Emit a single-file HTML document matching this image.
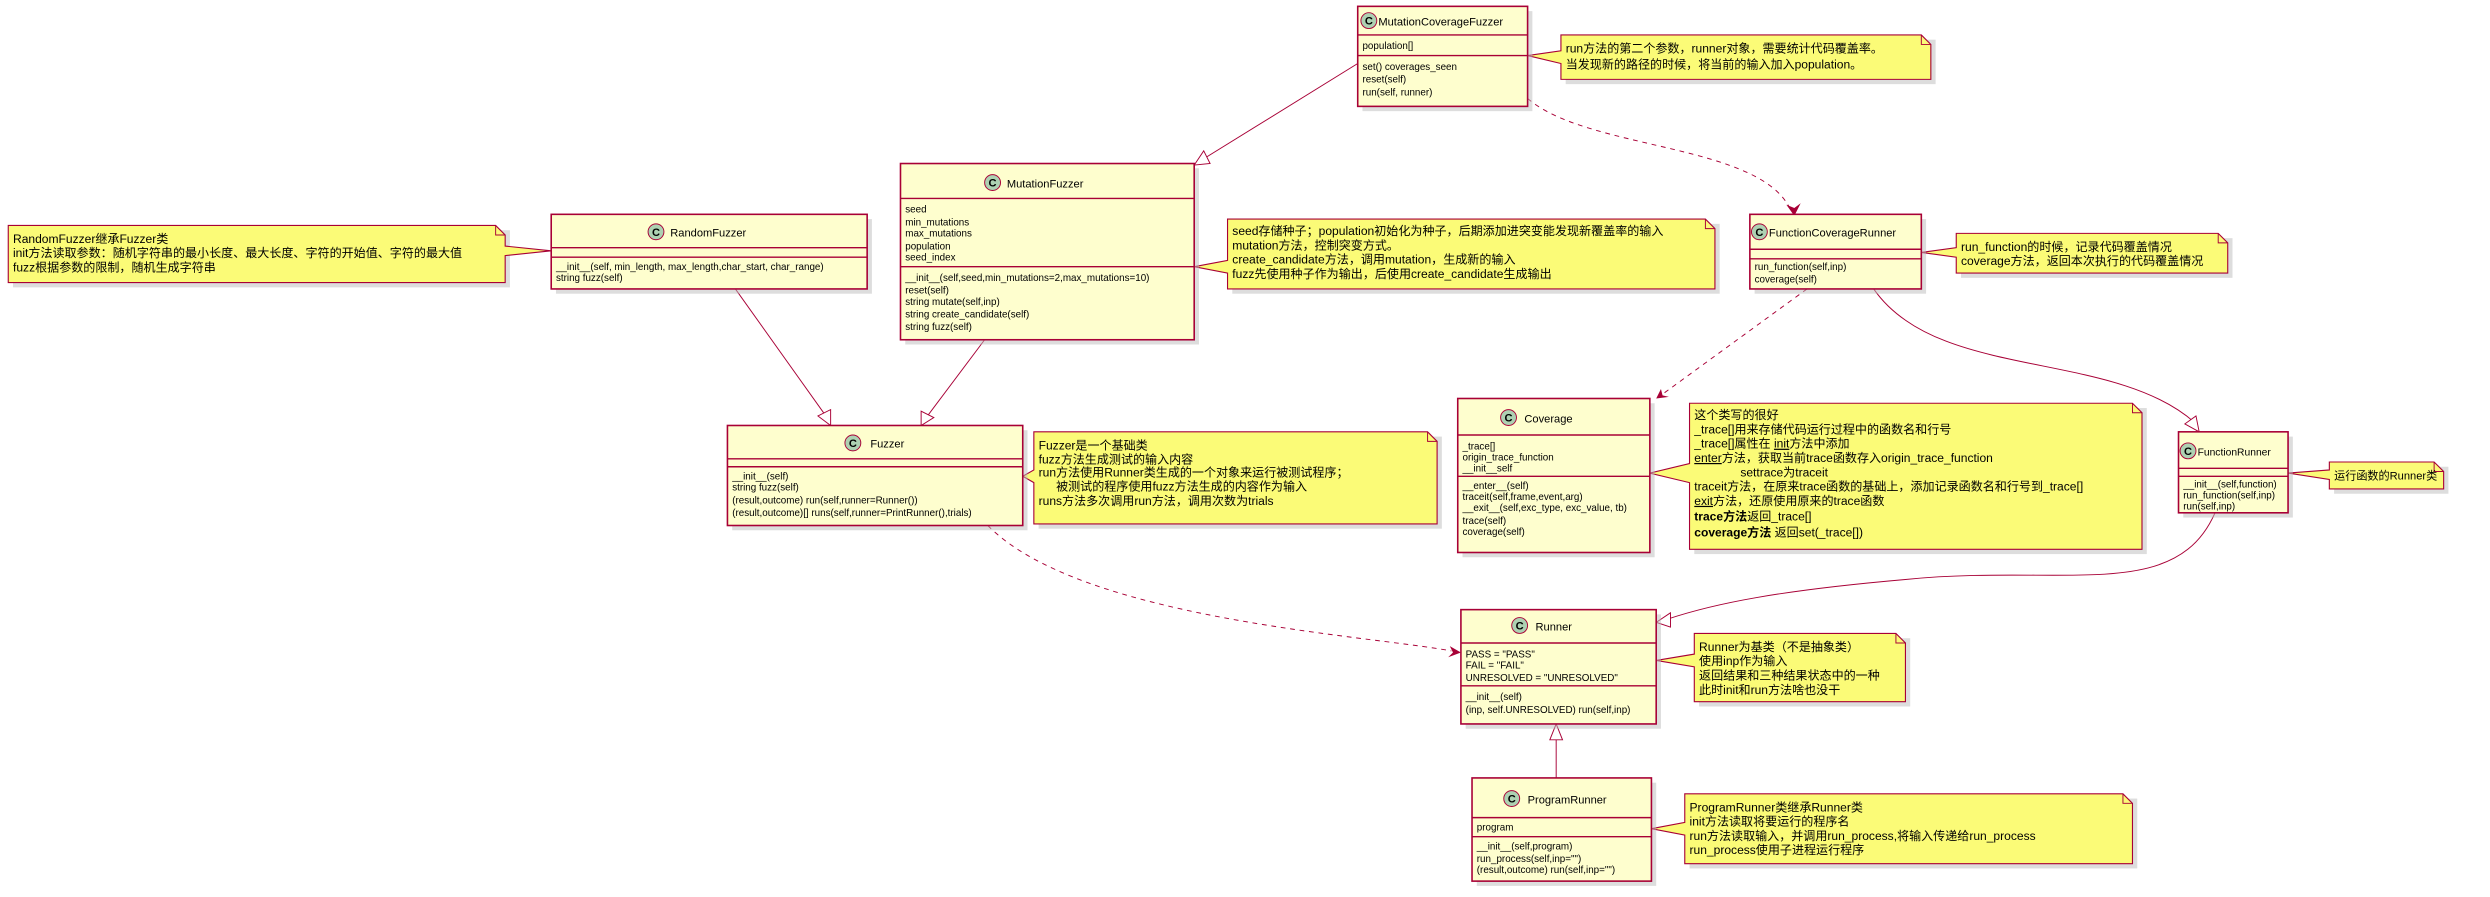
<!DOCTYPE html>
<html><head><meta charset="utf-8"><style>
html,body{margin:0;padding:0;background:#fff;}
svg{display:block;}
text{font-family:"Liberation Sans Narrow","Liberation Sans","Noto Sans CJK SC",sans-serif;fill:#000;}
.m{font-size:6.2px;}
.n{font-size:7px;}
.t{font-size:7.6px;}
.box{fill:#FEFECE;stroke:#A80036;stroke-width:1;}
.note{fill:#FBFB77;stroke:#A80036;stroke-width:0.7;}
.sh{fill:#bbb;opacity:.5;}
.ln{stroke:#A80036;stroke-width:0.9;}
.e{fill:none;stroke:#A80036;stroke-width:0.6;}
.tri{fill:#fff;stroke:#A80036;stroke-width:0.6;}
.ci{fill:#ADD1B2;stroke:#A80036;stroke-width:0.6;}
.ct{font-size:7px;font-weight:bold;text-anchor:middle;}
</style></head><body>
<svg width="2490" height="897" viewBox="0 0 1568 565" xmlns="http://www.w3.org/2000/svg">

<path class="e" d="M855,40 L758,100"/>
<polygon class="tri" points="752,104 758,95 762,103"/>
<path class="e" d="M962,62 C1000,95 1110,90 1128,133" stroke-dasharray="3,3"/>
<polygon points="1130,136 1125,129 1130,131 1134,128" fill="#A80036"/>
<path class="e" d="M463,182 L520,262"/>
<polygon class="tri" points="523,268 515,262 523,258"/>
<path class="e" d="M620,214 L584,262"/>
<polygon class="tri" points="580,268 580,259 588,263"/>
<path class="e" d="M1138,182 L1046,249" stroke-dasharray="3,3"/>
<polygon points="1043,251 1046,245 1047,249 1051,250" fill="#A80036"/>
<path class="e" d="M1180,182 C1220,240 1330,220 1382,266"/>
<polygon class="tri" points="1385,272 1376,267 1383,262"/>
<path class="e" d="M622,331 C680,390 860,400 914,410" stroke-dasharray="3,3"/>
<polygon points="920,411 913,407 915,411 912,414" fill="#A80036"/>
<path class="e" d="M1395,323 C1370,380 1300,355 1200,365 C1120,372 1080,380 1050,390"/>
<polygon class="tri" points="1043,392 1052,386 1052,395"/>
<path class="e" d="M980,490 L980,465"/>
<polygon class="tri" points="980,456 976,466 984,466"/>

<rect class="sh" x="8" y="145" width="313" height="36"/>
<path class="note" d="M5,142 L312,142 L318,148 L318,155 L347,158 L318,161 L318,178 L5,178 Z"/>
<path class="e" d="M312,142 L312,148 L318,148"/>
<text class="t" x="8" y="153">RandomFuzzer继承Fuzzer类</text>
<text class="t" x="8" y="162">init方法读取参数：随机字符串的最小长度、最大长度、字符的开始值、字符的最大值</text>
<text class="t" x="8" y="171">fuzz根据参数的限制，随机生成字符串</text>

<rect class="sh" x="986" y="25" width="233" height="28"/>
<path class="note" d="M983,22 L1210,22 L1216,28 L1216,50 L983,50 L983,40 L962,35 L983,32 Z"/>
<path class="e" d="M1210,22 L1210,28 L1216,28"/>
<text class="t" x="986" y="33">run方法的第二个参数，runner对象，需要统计代码覆盖率。</text>
<text class="t" x="986" y="43">当发现新的路径的时候，将当前的输入加入population。</text>

<rect class="sh" x="776" y="141" width="307" height="44"/>
<path class="note" d="M773,138 L1074,138 L1080,144 L1080,182 L773,182 L773,172 L752,168 L773,164 Z"/>
<path class="e" d="M1074,138 L1074,144 L1080,144"/>
<text class="t" x="776" y="148">seed存储种子；population初始化为种子，后期添加进突变能发现新覆盖率的输入</text>
<text class="t" x="776" y="157">mutation方法，控制突变方式。</text>
<text class="t" x="776" y="166">create_candidate方法，调用mutation，生成新的输入</text>
<text class="t" x="776" y="175">fuzz先使用种子作为输出，后使用create_candidate生成输出</text>

<rect class="sh" x="1235" y="150" width="171" height="25"/>
<path class="note" d="M1232,147 L1397,147 L1403,153 L1403,172 L1232,172 L1232,162 L1210,159 L1232,156 Z"/>
<path class="e" d="M1397,147 L1397,153 L1403,153"/>
<text class="t" x="1235" y="158">run_function的时候，记录代码覆盖情况</text>
<text class="t" x="1235" y="167">coverage方法，返回本次执行的代码覆盖情况</text>

<rect class="sh" x="654" y="275" width="254" height="58"/>
<path class="note" d="M651,272 L899,272 L905,278 L905,330 L651,330 L651,304 L644,300 L651,296 Z"/>
<path class="e" d="M899,272 L899,278 L905,278"/>
<text class="t" x="654" y="283">Fuzzer是一个基础类</text>
<text class="t" x="654" y="292">fuzz方法生成测试的输入内容</text>
<text class="t" x="654" y="300">run方法使用Runner类生成的一个对象来运行被测试程序；</text>
<text class="t" x="665" y="309">被测试的程序使用fuzz方法生成的内容作为输入</text>
<text class="t" x="654" y="318">runs方法多次调用run方法，调用次数为trials</text>

<rect class="sh" x="1067" y="257" width="285" height="92"/>
<path class="note" d="M1064,254 L1343,254 L1349,260 L1349,346 L1064,346 L1064,304 L1039,298 L1064,292 Z"/>
<path class="e" d="M1343,254 L1343,260 L1349,260"/>
<text class="t" x="1067" y="264">这个类写的很好</text>
<text class="t" x="1067" y="273">_trace[]用来存储代码运行过程中的函数名和行号</text>
<text class="t" x="1067" y="282">_trace[]属性在 <tspan text-decoration="underline">init</tspan>方法中添加</text>
<text class="t" x="1067" y="291"><tspan text-decoration="underline">enter</tspan>方法，获取当前trace函数存入origin_trace_function</text>
<text class="t" x="1096" y="300">settrace为traceit</text>
<text class="t" x="1067" y="309">traceit方法，在原来trace函数的基础上，添加记录函数名和行号到_trace[]</text>
<text class="t" x="1067" y="318"><tspan text-decoration="underline">exit</tspan>方法，还原使用原来的trace函数</text>
<text class="t" x="1067" y="328"><tspan font-weight="bold">trace方法</tspan>返回_trace[]</text>
<text class="t" x="1067" y="338"><tspan font-weight="bold">coverage方法</tspan>  返回set(_trace[])</text>

<rect class="sh" x="1470" y="294" width="72" height="17"/>
<path class="note" d="M1467,291 L1533,291 L1539,297 L1539,308 L1467,308 L1467,302 L1441,298 L1467,296 Z"/>
<path class="e" d="M1533,291 L1533,297 L1539,297"/>
<text class="t" x="1470" y="302" style="font-size:7px">运行函数的Runner类</text>

<rect class="sh" x="1070" y="402" width="133" height="43"/>
<path class="note" d="M1067,399 L1194,399 L1200,405 L1200,442 L1067,442 L1067,420 L1043,416 L1067,412 Z"/>
<path class="e" d="M1194,399 L1194,405 L1200,405"/>
<text class="t" x="1070" y="410">Runner为基类（不是抽象类）</text>
<text class="t" x="1070" y="419">使用inp作为输入</text>
<text class="t" x="1070" y="428">返回结果和三种结果状态中的一种</text>
<text class="t" x="1070" y="437">此时init和run方法啥也没干</text>

<rect class="sh" x="1064" y="503" width="282" height="44"/>
<path class="note" d="M1061,500 L1337,500 L1343,506 L1343,544 L1061,544 L1061,526 L1040,522 L1061,518 Z"/>
<path class="e" d="M1337,500 L1337,506 L1343,506"/>
<text class="t" x="1064" y="511">ProgramRunner类继承Runner类</text>
<text class="t" x="1064" y="520">init方法读取将要运行的程序名</text>
<text class="t" x="1064" y="529">run方法读取输入，并调用run_process,将输入传递给run_process</text>
<text class="t" x="1064" y="538">run_process使用子进程运行程序</text>

<rect class="sh" x="858" y="7" width="107" height="63"/>
<rect class="box" x="855" y="4" width="107" height="63"/>
<line class="ln" x1="855" y1="22" x2="962" y2="22"/><line class="ln" x1="855" y1="35" x2="962" y2="35"/>
<circle class="ci" cx="862" cy="13" r="5"/><text class="ct" x="862" y="15.5">C</text>
<text class="n" x="868" y="16">MutationCoverageFuzzer</text>
<text class="m" x="858" y="31">population[]</text>
<text class="m" x="858" y="44">set() coverages_seen</text>
<text class="m" x="858" y="52">reset(self)</text>
<text class="m" x="858" y="60">run(self, runner)</text>

<rect class="sh" x="570" y="106" width="185" height="111"/>
<rect class="box" x="567" y="103" width="185" height="111"/>
<line class="ln" x1="567" y1="125" x2="752" y2="125"/><line class="ln" x1="567" y1="168" x2="752" y2="168"/>
<circle class="ci" cx="625" cy="115" r="5"/><text class="ct" x="625" y="117.5">C</text>
<text class="n" x="634" y="118">MutationFuzzer</text>
<text class="m" x="570" y="134">seed</text>
<text class="m" x="570" y="142">min_mutations</text>
<text class="m" x="570" y="149">max_mutations</text>
<text class="m" x="570" y="157">population</text>
<text class="m" x="570" y="164">seed_index</text>
<text class="m" x="570" y="177">__init__(self,seed,min_mutations=2,max_mutations=10)</text>
<text class="m" x="570" y="185">reset(self)</text>
<text class="m" x="570" y="192">string mutate(self,inp)</text>
<text class="m" x="570" y="200">string create_candidate(self)</text>
<text class="m" x="570" y="208">string fuzz(self)</text>

<rect class="sh" x="350" y="138" width="199" height="47"/>
<rect class="box" x="347" y="135" width="199" height="47"/>
<line class="ln" x1="347" y1="156" x2="546" y2="156"/><line class="ln" x1="347" y1="162" x2="546" y2="162"/>
<circle class="ci" cx="413" cy="146" r="5"/><text class="ct" x="413" y="148.5">C</text>
<text class="n" x="422" y="149">RandomFuzzer</text>
<text class="m" x="350" y="170">__init__(self, min_length, max_length,char_start, char_range)</text>
<text class="m" x="350" y="177">string fuzz(self)</text>

<rect class="sh" x="1105" y="138" width="108" height="47"/>
<rect class="box" x="1102" y="135" width="108" height="47"/>
<line class="ln" x1="1102" y1="157" x2="1210" y2="157"/><line class="ln" x1="1102" y1="163" x2="1210" y2="163"/>
<circle class="ci" cx="1108" cy="146" r="5"/><text class="ct" x="1108" y="148.5">C</text>
<text class="n" x="1114" y="149">FunctionCoverageRunner</text>
<text class="m" x="1105" y="170">run_function(self,inp)</text>
<text class="m" x="1105" y="178">coverage(self)</text>

<rect class="sh" x="461" y="271" width="186" height="63"/>
<rect class="box" x="458" y="268" width="186" height="63"/>
<line class="ln" x1="458" y1="289" x2="644" y2="289"/><line class="ln" x1="458" y1="294" x2="644" y2="294"/>
<circle class="ci" cx="537" cy="279" r="5"/><text class="ct" x="537" y="281.5">C</text>
<text class="n" x="548" y="282">Fuzzer</text>
<text class="m" x="461" y="302">__init__(self)</text>
<text class="m" x="461" y="309">string fuzz(self)</text>
<text class="m" x="461" y="317">(result,outcome) run(self,runner=Runner())</text>
<text class="m" x="461" y="325">(result,outcome)[] runs(self,runner=PrintRunner(),trials)</text>

<rect class="sh" x="921" y="254" width="121" height="97"/>
<rect class="box" x="918" y="251" width="121" height="97"/>
<line class="ln" x1="918" y1="274" x2="1039" y2="274"/><line class="ln" x1="918" y1="300" x2="1039" y2="300"/>
<circle class="ci" cx="950" cy="263" r="5"/><text class="ct" x="950" y="265.5">C</text>
<text class="n" x="960" y="266">Coverage</text>
<text class="m" x="921" y="283">_trace[]</text>
<text class="m" x="921" y="290">origin_trace_function</text>
<text class="m" x="921" y="297">__init__self</text>
<text class="m" x="921" y="308">__enter__(self)</text>
<text class="m" x="921" y="315">traceit(self,frame,event,arg)</text>
<text class="m" x="921" y="322">__exit__(self,exc_type, exc_value, tb)</text>
<text class="m" x="921" y="330">trace(self)</text>
<text class="m" x="921" y="337">coverage(self)</text>

<rect class="sh" x="1375" y="275" width="69" height="51"/>
<rect class="box" x="1372" y="272" width="69" height="51"/>
<line class="ln" x1="1372" y1="295" x2="1441" y2="295"/><line class="ln" x1="1372" y1="300" x2="1441" y2="300"/>
<circle class="ci" cx="1378" cy="284" r="5"/><text class="ct" x="1378" y="286.5">C</text>
<text class="m" x="1384" y="287" style="font-size:6.5px">FunctionRunner</text>
<text class="m" x="1375" y="307">__init__(self,function)</text>
<text class="m" x="1375" y="314">run_function(self,inp)</text>
<text class="m" x="1375" y="321">run(self,inp)</text>

<rect class="sh" x="923" y="387" width="123" height="72"/>
<rect class="box" x="920" y="384" width="123" height="72"/>
<line class="ln" x1="920" y1="405" x2="1043" y2="405"/><line class="ln" x1="920" y1="432" x2="1043" y2="432"/>
<circle class="ci" cx="957" cy="394" r="5"/><text class="ct" x="957" y="396.5">C</text>
<text class="n" x="967" y="397">Runner</text>
<text class="m" x="923" y="414">PASS = "PASS"</text>
<text class="m" x="923" y="421">FAIL = "FAIL"</text>
<text class="m" x="923" y="429">UNRESOLVED = "UNRESOLVED"</text>
<text class="m" x="923" y="441">__init__(self)</text>
<text class="m" x="923" y="449">(inp, self.UNRESOLVED) run(self,inp)</text>

<rect class="sh" x="930" y="493" width="113" height="65"/>
<rect class="box" x="927" y="490" width="113" height="65"/>
<line class="ln" x1="927" y1="515" x2="1040" y2="515"/><line class="ln" x1="927" y1="527" x2="1040" y2="527"/>
<circle class="ci" cx="952" cy="503" r="5"/><text class="ct" x="952" y="505.5">C</text>
<text class="n" x="962" y="506">ProgramRunner</text>
<text class="m" x="930" y="523">program</text>
<text class="m" x="930" y="535">__init__(self,program)</text>
<text class="m" x="930" y="543">run_process(self,inp="")</text>
<text class="m" x="930" y="550">(result,outcome) run(self,inp="")</text>
</svg>
</body></html>
